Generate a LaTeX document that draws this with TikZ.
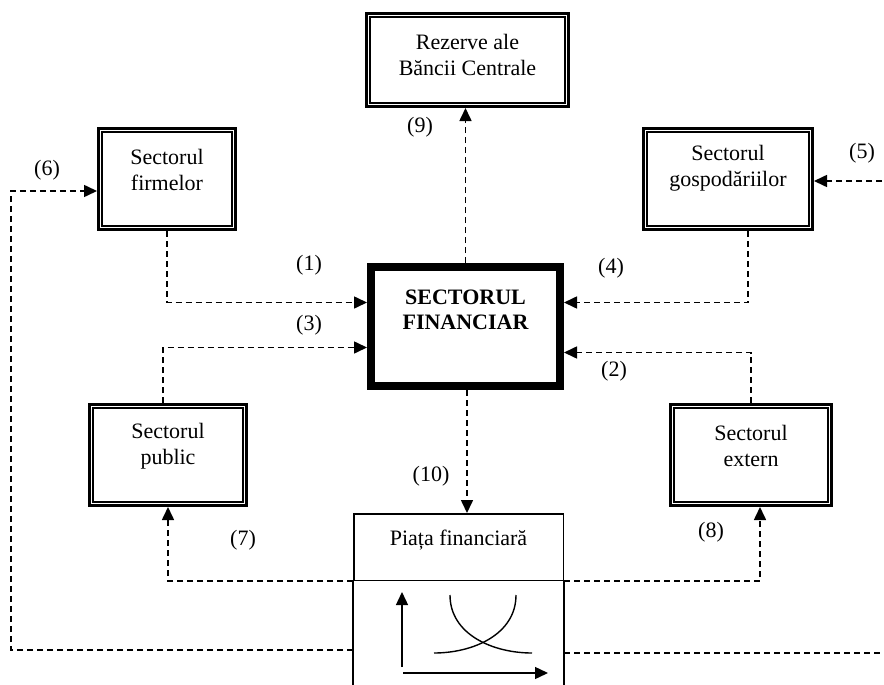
\documentclass[tikz,border=0pt]{standalone}
\usepackage{fontspec}
\setmainfont{Liberation Serif}
\usetikzlibrary{arrows.meta}
\tikzset{
  sbox/.style={draw, line width=3pt, inner sep=0pt},
  inner/.style={line width=1.4pt},
  flow/.style={line width=1.6pt, dash pattern=on 6pt off 4pt, -{Triangle[length=13pt,width=12pt]}},
  axis/.style={line width=1.4pt, -{Triangle[length=13pt,width=12pt]}}
}
\begin{document}
\begin{tikzpicture}[x=1pt,y=-1pt,every node/.style={font=\fontsize{22}{26}\selectfont}]
\useasboundingbox (0,0) rectangle (884,685);
% boxes
\node[sbox, minimum width=202pt, minimum height=93pt,
  label={[align=center,yshift=5pt]center:{Rezerve ale\\Băncii Centrale}}] (rez) at (467.5,60) {};
\node[sbox, minimum width=137pt, minimum height=101pt,
  label={[align=center,yshift=9pt]center:{Sectorul\\firmelor}}] (firm) at (167,179) {};
\node[sbox, minimum width=169pt, minimum height=101pt,
  label={[align=center,yshift=11pt]center:{Sectorul\\gospodăriilor}}] (gosp) at (728,179) {};
\node[sbox, minimum width=157pt, minimum height=101pt,
  label={[align=center,yshift=9pt]center:{Sectorul\\public}}] (pub) at (168,455) {};
\node[sbox, minimum width=161pt, minimum height=101pt,
  label={[align=center,yshift=9pt]center:{Sectorul\\extern}}] (ext) at (751,455) {};
\node[sbox, line width=7pt, minimum width=190pt, minimum height=120pt,
  label={[align=center,yshift=17pt,font=\fontsize{22}{25}\selectfont\bfseries]center:{SECTORUL\\FINANCIAR}}] (fin) at (465.5,326.5) {};
\node[draw, line width=1.5pt, inner sep=0pt, minimum width=209.5pt, minimum height=66.5pt,
  label={[yshift=7pt]center:Piața financiară}] (piata) at (458.5,547) {};
\foreach \n in {rez,firm,gosp,pub,ext}
  \draw[inner] ([xshift=5pt,yshift=-5pt]\n.north west) rectangle ([xshift=-5pt,yshift=5pt]\n.south east);
\draw[inner] ([xshift=7pt,yshift=-7pt]fin.north west) rectangle ([xshift=-7pt,yshift=7pt]fin.south east);
\draw[line width=1.5pt] (piata.south west) -- ++(0,120);
\draw[line width=1.5pt] (piata.south east) -- ++(0,120);
% market chart
\draw[axis] (402,667) -- (402,592);
\draw[axis] (403,673) -- (548,673);
\draw[inner] (450,595) to[out=-90,in=180] (532,653);
\draw[inner] (516,595) to[out=-90,in=0] (434,653);
% flows
\coordinate (p6) at (353,650);
\coordinate (c6) at (11,650);
\coordinate (p5) at (564,653);
\coordinate (c5) at (892,653);
\draw[flow] (firm.south) |- ([yshift=24pt]fin.west);
\draw[flow] ([xshift=20pt]gosp.south) |- ([yshift=24pt]fin.east);
\draw[flow] ([xshift=-5pt]pub.north) |- ([yshift=-21pt]fin.west);
\draw[flow] (ext.north) |- ([yshift=-26pt]fin.east);
\draw[flow] (fin.north) -- (fin.north |- rez.south);
\draw[flow] ([xshift=1.5pt]fin.south) -- ([xshift=1.5pt]fin.south |- piata.north);
\draw[flow] (piata.south west) -| (pub.south);
\draw[flow] (piata.south east) -| ([xshift=9pt]ext.south);
\draw[flow] (p6) -- (c6) |- ([yshift=-12pt]firm.west);
\draw[flow] (p5) -- (c5) |- ([yshift=-2pt]gosp.east);
% labels
\node (l1) at (309,265) {(1)};
\node (l2) at (614,371) {(2)};
\node (l3) at (309,325) {(3)};
\node (l4) at (611,268) {(4)};
\node (l5) at (862,153) {(5)};
\node (l6) at (47,170) {(6)};
\node (l7) at (243,540) {(7)};
\node (l8) at (711,532) {(8)};
\node (l9) at (420,127) {(9)};
\node (l10) at (431,476) {(10)};
\end{tikzpicture}
\end{document}
